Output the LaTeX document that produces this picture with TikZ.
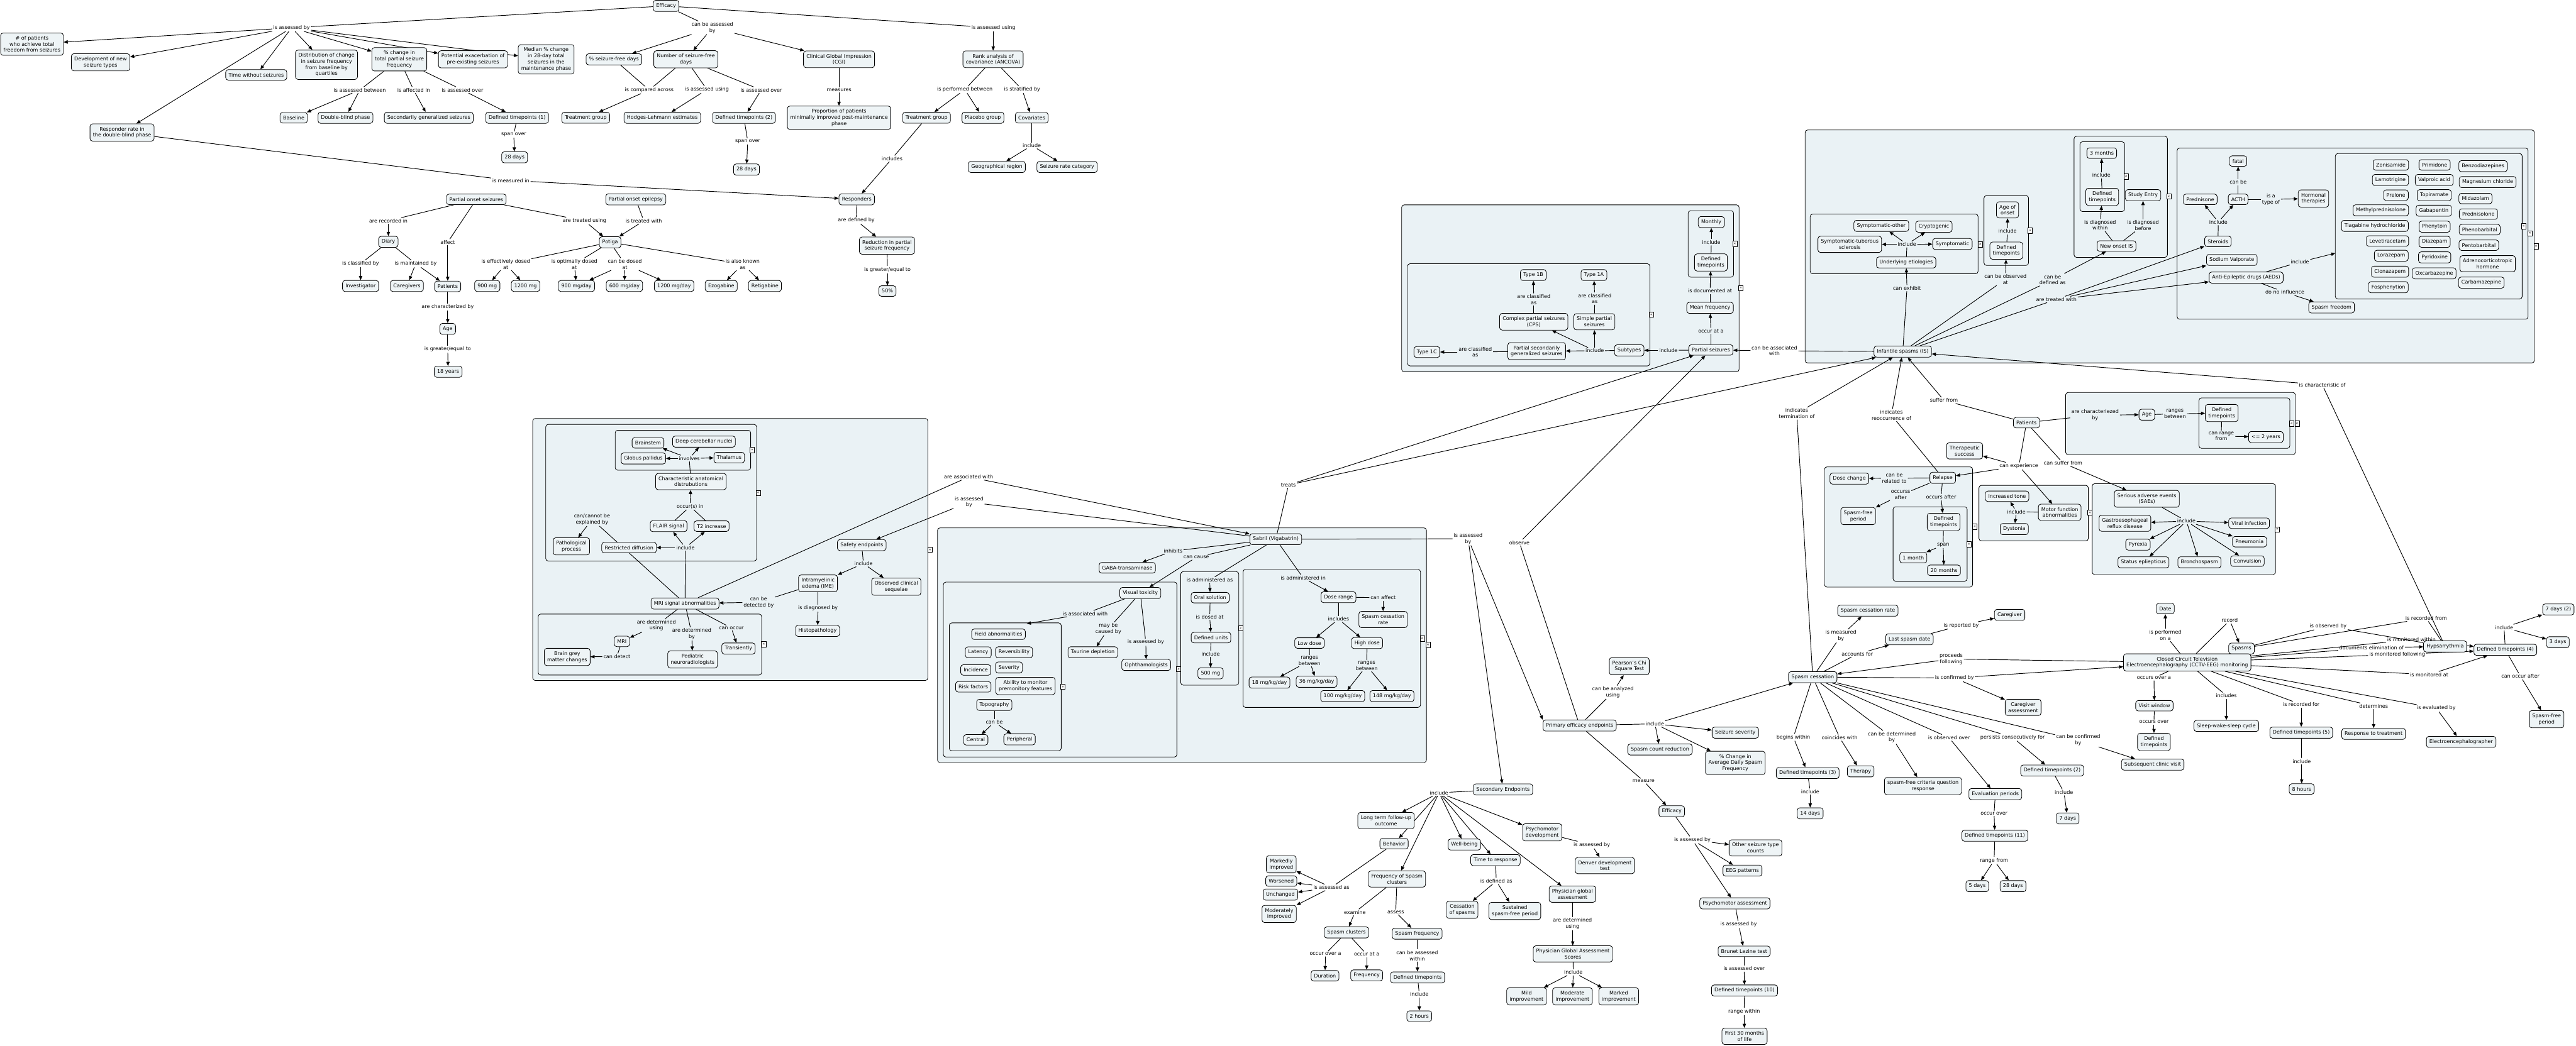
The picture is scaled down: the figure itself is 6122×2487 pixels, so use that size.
\documentclass[tikz,border=0pt]{standalone}
\usepackage{fontspec}
\setmainfont{DejaVu Sans}
\usetikzlibrary{arrows.meta}
\definecolor{cfill}{RGB}{238,244,246}
\definecolor{gfill}{RGB}{234,242,245}
\pgfdeclarelayer{panels}
\pgfdeclarelayer{links}
\pgfsetlayers{panels,links,main}
\begin{document}
\begin{tikzpicture}[x=0.01cm, y=-0.01cm, line width=0.3pt,
  font=\fontsize{3.41}{4.13}\selectfont,
  main/.style={draw, rounded corners=1.7pt, fill=cfill, line width=0.35pt, inner xsep=2pt, inner ysep=2.1pt, minimum height=7.1pt, align=center},
  lnk/.style={inner sep=0.6pt, align=center},
  arr/.style={-{Triangle[length=2.8pt,width=2.3pt]}},
  grp/.style={draw, rounded corners=1.7pt, fill=gfill, line width=0.35pt},
  fold/.style={draw, fill=white, line width=0.3pt, inner sep=0pt, minimum width=3pt, minimum height=3.6pt, font=\fontsize{2.6}{3}\selectfont}]
\useasboundingbox (0,0) rectangle (6122,2487);

\begin{pgfonlayer}{panels}
\draw[grp] (3331,487) rectangle (4133,884);
\draw[grp] (3345,627) rectangle (3921,870);
\draw[grp] (4012,501) rectangle (4120,659);
\draw[grp] (4290,309) rectangle (6023,863);
\draw[grp] (4302,509) rectangle (4701,651);
\draw[grp] (4715,465) rectangle (4821,631);
\draw[grp] (4929,324) rectangle (5151,612);
\draw[grp] (4943,337) rectangle (5049,503);
\draw[grp] (5174,352) rectangle (6008,759);
\draw[grp] (5550,365) rectangle (5994,711);
\draw[grp] (1266,995) rectangle (2205,1618);
\draw[grp] (1297,1009) rectangle (1798,1334);
\draw[grp] (1462,1023) rectangle (1784,1118);
\draw[grp] (1279,1460) rectangle (1810,1605);
\draw[grp] (2228,1255) rectangle (3390,1813);
\draw[grp] (2242,1384) rectangle (2797,1800);
\draw[grp] (2256,1481) rectangle (2522,1785);
\draw[grp] (2806,1359) rectangle (2944,1629);
\draw[grp] (2954,1354) rectangle (3376,1682);
\draw[grp] (4336,1110) rectangle (4688,1396);
\draw[grp] (4499,1205) rectangle (4675,1382);
\draw[grp] (4909,933) rectangle (5455,1081);
\draw[grp] (5226,946) rectangle (5442,1066);
\draw[grp] (4703,1154) rectangle (4963,1286);
\draw[grp] (4972,1150) rectangle (5408,1366);
\end{pgfonlayer}

\node[main] (eff) at (1583,14) {Efficacy};
\node[lnk] (asby) at (693,66) {is assessed by};
\node[main] (npat) at (76,105) {\# of patients\\who achieve total\\freedom from seizures};
\node[main] (devn) at (239,148) {Development of new\\seizure types};
\node[main] (twos) at (609,178) {Time without seizures};
\node[main] (dist) at (776,154) {Distribution of change\\in seizure frequency\\from baseline by\\quartiles};
\node[main] (pchg) at (949,141) {\% change in\\total partial seizure\\frequency};
\node[main] (potx) at (1124,141) {Potential exacerbation of\\pre-existing seizures};
\node[main] (medc) at (1298,141) {Median \% change\\in 28-day total\\seizures in the\\maintenance phase};
\node[main] (psfd) at (1459,141) {\% seizure-free days};
\node[lnk] (cabb) at (1693,66) {can be assessed\\by};
\node[main] (nsfd) at (1630,141) {Number of seizure-free\\days};
\node[main] (cgi) at (1994,141) {Clinical Global Impression\\(CGI)};
\node[lnk] (asus) at (2361,66) {is assessed using};
\node[main] (ranc) at (2360,141) {Rank analysis of\\covariance (ANCOVA)};
\node[main] (resr) at (290,315) {Responder rate in\\the double-blind phase};
\node[lnk] (asbt) at (855,214) {is assessed between};
\node[lnk] (afin) at (983,214) {is affected in};
\node[lnk] (asov1) at (1099,214) {is assessed over};
\node[main] (basl) at (698,280) {Baseline};
\node[main] (dbp) at (821,280) {Double-blind phase};
\node[main] (sgs) at (1019,280) {Secondarily generalized seizures};
\node[main] (dt1) at (1229,280) {Defined timepoints (1)};
\node[lnk] (spov1) at (1221,320) {span over};
\node[main] (d28a) at (1223,374) {28 days};
\node[lnk] (cmpa) at (1543,214) {is compared across};
\node[lnk] (asus2) at (1680,213) {is assessed using};
\node[lnk] (asov2) at (1809,214) {is assessed over};
\node[lnk] (meas) at (1994,214) {measures};
\node[lnk] (pfbt) at (2293,213) {is performed between};
\node[lnk] (stby) at (2429,213) {is stratified by};
\node[main] (trg1) at (1392,280) {Treatment group};
\node[main] (hodg) at (1574,280) {Hodges-Lehmann estimates};
\node[main] (dt2) at (1768,280) {Defined timepoints (2)};
\node[main] (prop) at (1994,280) {Proportion of patients\\minimally improved post-maintenance\\phase};
\node[main] (trg2) at (2202,280) {Treatment group};
\node[main] (plac) at (2336,280) {Placebo group};
\node[main] (covs) at (2452,280) {Covariates};
\node[lnk] (spov2) at (1777,336) {span over};
\node[main] (d28b) at (1774,403) {28 days};
\node[lnk] (incs1) at (2120,377) {includes};
\node[lnk] (incl1) at (2452,346) {include};
\node[main] (geo) at (2369,397) {Geographical region};
\node[main] (src) at (2536,397) {Seizure rate category};
\node[lnk] (msin) at (1214,429) {is measured in};
\node[main] (rspd) at (2036,474) {Responders};
\node[lnk] (adby) at (2035,524) {are defined by};
\node[main] (rdpf) at (2108,584) {Reduction in partial\\seizure frequency};
\node[lnk] (gte1) at (2109,641) {is greater/equal to};
\node[main] (p50) at (2109,692) {50\%};
\node[main] (pos) at (1132,474) {Partial onset seizures};
\node[main] (poe) at (1511,474) {Partial onset epilepsy};
\node[lnk] (arin) at (923,525) {are recorded in};
\node[lnk] (affc) at (1064,576) {affect};
\node[lnk] (atus) at (1389,525) {are treated using};
\node[lnk] (itw) at (1530,525) {is treated with};
\node[main] (diary) at (923,575) {Diary};
\node[main] (potg) at (1450,576) {Potiga};
\node[lnk] (clby) at (857,627) {is classified by};
\node[lnk] (mnby) at (988,627) {is maintained by};
\node[lnk] (effd) at (1202,628) {is effectively dosed\\at};
\node[lnk] (optd) at (1365,628) {is optimally dosed\\at};
\node[lnk] (cbdt) at (1485,628) {can be dosed\\at};
\node[lnk] (akas) at (1765,628) {is also known\\as};
\node[main] (invs) at (857,680) {Investigator};
\node[main] (cgvs) at (967,680) {Caregivers};
\node[main] (patl) at (1064,681) {Patients};
\node[main] (m900) at (1158,680) {900 mg};
\node[main] (m1200) at (1249,680) {1200 mg};
\node[main] (d900) at (1370,680) {900 mg/day};
\node[main] (d600) at (1484,680) {600 mg/day};
\node[main] (d1200) at (1602,680) {1200 mg/day};
\node[main] (ezog) at (1714,680) {Ezogabine};
\node[main] (retg) at (1818,680) {Retigabine};
\node[lnk] (achb) at (1064,730) {are characterized by};
\node[main] (agel) at (1064,782) {Age};
\node[lnk] (gte2) at (1064,830) {is greater/equal to};
\node[main] (y18) at (1065,884) {18 years};

\node[main] (bstm) at (1540,1053) {Brainstem};
\node[main] (glob) at (1529,1090) {Globus pallidus};
\node[main] (dcn) at (1673,1050) {Deep cerebellar nuclei};
\node[main] (thal) at (1733,1088) {Thalamus};
\node[lnk] (invl) at (1638,1090) {involves};
\node[main] (cad) at (1642,1145) {Characteristic anatomical\\distrubutions};
\node[lnk] (occi) at (1640,1204) {occur(s) in};
\node[main] (flair) at (1589,1251) {FLAIR signal};
\node[main] (t2i) at (1691,1251) {T2 increase};
\node[lnk] (incl2) at (1629,1302) {include};
\node[main] (rdif) at (1495,1302) {Restricted diffusion};
\node[main] (patp) at (1358,1299) {Pathological\\process};
\node[lnk] (cnex) at (1407,1235) {can/cannot be\\explained by};
\node[main] (mrisa) at (1628,1435) {MRI signal abnormalities};
\node[main] (mri) at (1478,1525) {MRI};
\node[main] (bgmc) at (1348,1562) {Brain grey\\matter changes};
\node[lnk] (cdet) at (1466,1561) {can detect};
\node[lnk] (adus) at (1560,1487) {are determined\\using};
\node[lnk] (adby2) at (1644,1507) {are determined\\by};
\node[lnk] (cocc) at (1738,1493) {can occur};
\node[main] (pedn) at (1646,1568) {Pediatric\\neuroradiologists};
\node[main] (trns) at (1755,1542) {Transiently};
\node[lnk] (cbdb) at (1803,1432) {can be\\detected by};
\node[main] (safe) at (2048,1296) {Safety endpoints};
\node[lnk] (incl3) at (2052,1340) {include};
\node[main] (ime) at (1944,1387) {Intramyelinic\\edema (IME)};
\node[main] (ocs) at (2130,1395) {Observed clinical\\sequelae};
\node[lnk] (dgby) at (1944,1446) {is diagnosed by};
\node[main] (hist) at (1943,1500) {Histopathology};
\node[lnk] (aaw) at (2302,1134) {are associated with};
\node[lnk] (asby2) at (2303,1194) {is assessed\\by};

\node[main] (sab) at (3032,1282) {Sabril (Vigabatrin)};
\node[lnk] (inhb) at (2788,1310) {inhibits};
\node[main] (gaba) at (2679,1350) {GABA-transaminase};
\node[lnk] (ccau) at (2843,1325) {can cause};
\node[main] (vtox) at (2710,1410) {Visual toxicity};
\node[lnk] (iaw) at (2579,1459) {is associated with};
\node[lnk] (mbcb) at (2634,1495) {may be\\caused by};
\node[lnk] (asby3) at (2723,1527) {is assessed by};
\node[main] (taur) at (2597,1551) {Taurine depletion};
\node[main] (opht) at (2724,1581) {Ophthamologists};
\node[main] (fabn) at (2373,1508) {Field abnormalities};
\node[main] (latn) at (2325,1551) {Latency};
\node[main] (revr) at (2410,1551) {Reversibility};
\node[main] (incd) at (2319,1593) {Incidence};
\node[main] (sevr) at (2398,1587) {Severity};
\node[main] (rskf) at (2313,1633) {Risk factors};
\node[main] (abil) at (2437,1631) {Ability to monitor\\premonitory features};
\node[main] (topo) at (2363,1676) {Topography};
\node[lnk] (canbe1) at (2363,1717) {can be};
\node[main] (cent) at (2319,1759) {Central};
\node[main] (peri) at (2423,1758) {Peripheral};
\node[lnk] (admas) at (2875,1379) {is administered as};
\node[main] (orals) at (2876,1421) {Oral solution};
\node[lnk] (dsat) at (2875,1467) {is dosed at};
\node[main] (dunit) at (2878,1516) {Defined units};
\node[lnk] (incl4) at (2877,1555) {include};
\node[main] (m500) at (2877,1601) {500 mg};
\node[lnk] (admin) at (3097,1374) {is administered in};
\node[main] (dsr) at (3181,1420) {Dose range};
\node[lnk] (caff) at (3287,1421) {can affect};
\node[main] (scr1) at (3287,1473) {Spasm cessation\\rate};
\node[lnk] (incs2) at (3181,1472) {includes};
\node[main] (lowd) at (3112,1529) {Low dose};
\node[main] (higd) at (3249,1529) {High dose};
\node[lnk] (rbt1) at (3112,1571) {ranges\\between};
\node[lnk] (rbt2) at (3248,1583) {ranges\\between};
\node[main] (k18) at (3017,1623) {18 mg/kg/day};
\node[main] (k36) at (3129,1621) {36 mg/kg/day};
\node[main] (k100) at (3191,1655) {100 mg/kg/day};
\node[main] (k148) at (3308,1655) {148 mg/kg/day};
\node[lnk] (trts) at (3062,1153) {treats};
\node[lnk] (asby4) at (3489,1281) {is assessed\\by};
\node[lnk] (obsv) at (3611,1290) {observe};

\node[main] (mthl) at (4067,528) {Monthly};
\node[lnk] (incl5) at (4067,576) {include};
\node[main] (dtpa) at (4066,624) {Defined\\timepoints};
\node[lnk] (docat) at (4064,692) {is documented at};
\node[main] (mfreq) at (4064,732) {Mean frequency};
\node[lnk] (occa) at (4066,787) {occur at a};
\node[main] (ps) at (4066,832) {Partial seizures};
\node[main] (t1b) at (3644,654) {Type 1B};
\node[main] (t1a) at (3788,654) {Type 1A};
\node[lnk] (acas1) at (3645,712) {are classified\\as};
\node[lnk] (acas2) at (3790,710) {are classified\\as};
\node[main] (cps) at (3645,765) {Complex partial seizures\\(CPS)};
\node[main] (sps) at (3789,765) {Simple partial\\seizures};
\node[lnk] (incl6) at (3790,834) {include};
\node[main] (psgs) at (3652,835) {Partial secondarily\\generalized seizures};
\node[main] (subt) at (3872,833) {Subtypes};
\node[lnk] (incl7) at (3965,833) {include};
\node[main] (t1c) at (3391,837) {Type 1C};
\node[lnk] (acas3) at (3506,837) {are classified\\as};
\node[lnk] (cbaw) at (4217,834) {can be associated\\with};

\node[main] (isp) at (4522,836) {Infantile spasms (IS)};
\node[main] (symo) at (4471,537) {Symptomatic-other};
\node[main] (cryp) at (4596,539) {Cryptogenic};
\node[main] (symt) at (4396,581) {Symptomatic-tuberous\\sclerosis};
\node[lnk] (incl8) at (4532,581) {include};
\node[main] (symp) at (4640,580) {Symptomatic};
\node[main] (unde) at (4530,624) {Underlying etiologies};
\node[lnk] (cexh) at (4532,685) {can exhibit};
\node[main] (aons) at (4771,499) {Age of\\onset};
\node[lnk] (incl9) at (4771,550) {include};
\node[main] (dtpf) at (4768,596) {Defined\\timepoints};
\node[lnk] (cboa) at (4766,664) {can be observed\\at};
\node[main] (m3) at (4995,364) {3 months};
\node[lnk] (incl10) at (4994,417) {include};
\node[main] (dtph) at (4996,468) {Defined\\timepoints};
\node[main] (sent) at (5093,464) {Study Entry};
\node[lnk] (dgwi) at (4991,535) {is diagnosed\\within};
\node[lnk] (dgbf) at (5093,536) {is diagnosed\\before};
\node[main] (nois) at (5030,585) {New onset IS};
\node[lnk] (cbda) at (4878,665) {can be\\defined as};
\node[lnk] (atw) at (4887,712) {are treated with};
\node[main] (fatal) at (5319,383) {fatal};
\node[lnk] (canbe2) at (5319,433) {can be};
\node[main] (pred) at (5229,474) {Prednisone};
\node[main] (acth) at (5319,474) {ACTH};
\node[lnk] (isat) at (5397,474) {is a\\type of};
\node[main] (horm) at (5498,472) {Hormonal\\therapies};
\node[lnk] (incl11) at (5272,528) {include};
\node[main] (ster) at (5271,574) {Steroids};
\node[main] (sval) at (5304,618) {Sodium Valporate};
\node[main] (aeds) at (5338,660) {Anti-Epileptic drugs (AEDs)};
\node[lnk] (incl12) at (5466,623) {include};
\node[lnk] (dnin) at (5430,695) {do no influence};
\node[main] (spfr) at (5541,731) {Spasm freedom};
\coordinate (jleft) at (5550,602);
\node[main] (a1) at (5682,392) {Zonisamide};
\node[main] (a2) at (5681,428) {Lamotrigine};
\node[main] (a3) at (5694,464) {Prelone};
\node[main] (a4) at (5658,500) {Methylprednisolone};
\node[main] (a5) at (5644,537) {Tiagabine hydrochloride};
\node[main] (a6) at (5674,573) {Levetiracetam};
\node[main] (a7) at (5683,608) {Lorazepam};
\node[main] (a8) at (5680,646) {Clonazapem};
\node[main] (a9) at (5676,683) {Fosphenytion};
\node[main] (a10) at (5786,392) {Primidone};
\node[main] (a11) at (5785,428) {Valproic acid};
\node[main] (a12) at (5785,464) {Topiramate};
\node[main] (a13) at (5784,501) {Gabapentin};
\node[main] (a14) at (5786,539) {Phenytoin};
\node[main] (a15) at (5786,575) {Diazepam};
\node[main] (a16) at (5786,612) {Pyridoxine};
\node[main] (a17) at (5785,650) {Oxcarbazepine};
\node[main] (a18) at (5901,395) {Benzodiazepines};
\node[main] (a19) at (5912,433) {Magnesium chloride};
\node[main] (a20) at (5883,472) {Midazolam};
\node[main] (a21) at (5890,509) {Prednisolone};
\node[main] (a22) at (5893,546) {Phenobarbital};
\node[main] (a23) at (5891,583) {Pentobarbital};
\node[main] (a24) at (5912,627) {Adrenocorticotropic\\hormone};
\node[main] (a25) at (5897,672) {Carbamazepine};

\node[lnk] (isch) at (5519,915) {is characteristic of};
\node[lnk] (itrm) at (4270,983) {indicates\\termination of};
\node[lnk] (irec) at (4495,987) {indicates\\reoccurrence of};
\node[lnk] (sufr) at (4620,952) {suffer from};
\node[main] (patr) at (4816,1005) {Patients};
\node[lnk] (achb2) at (4979,987) {are characteriezed\\by};
\node[main] (ager) at (5102,986) {Age};
\node[lnk] (rbt3) at (5169,984) {ranges\\between};
\node[main] (dtpw) at (5280,982) {Defined\\timepoints};
\node[lnk] (crf) at (5279,1037) {can range\\from};
\node[main] (le2y) at (5385,1039) {<= 2 years};
\node[lnk] (cexp) at (4798,1108) {can experience};
\node[lnk] (csuf) at (4903,1101) {can suffer from};
\node[main] (thsc) at (4669,1072) {Therapeutic\\success};
\node[main] (dchg) at (4395,1138) {Dose change};
\node[lnk] (crto) at (4502,1137) {can be\\related to};
\node[main] (rlps) at (4617,1136) {Relapse};
\node[lnk] (ocsa) at (4517,1177) {occurss\\after};
\node[lnk] (ocaf) at (4613,1182) {occurs after};
\node[main] (sfp1) at (4416,1227) {Spasm-free\\period};
\node[main] (dtpu) at (4619,1241) {Defined\\timepoints};
\node[lnk] (spn) at (4618,1296) {span};
\node[main] (mo1) at (4547,1326) {1 month};
\node[main] (mo20) at (4620,1356) {20 months};
\node[main] (inct) at (4770,1180) {Increased tone};
\node[lnk] (incl13) at (4792,1217) {include};
\node[main] (dyst) at (4787,1258) {Dystonia};
\node[main] (mfab) at (4895,1218) {Motor function\\abnormalities};
\node[main] (saes) at (5102,1186) {Serious adverse events\\(SAEs)};
\node[lnk] (incl14) at (5196,1239) {include};
\node[main] (gerd) at (5050,1244) {Gastroesophageal\\reflux disease};
\node[main] (vinf) at (5345,1244) {Viral infection};
\node[main] (pyrx) at (5081,1295) {Pyrexia};
\node[main] (pneu) at (5346,1288) {Pneumonia};
\node[main] (stat) at (5094,1337) {Status epliepticus};
\node[main] (bron) at (5227,1337) {Bronchospasm};
\node[main] (conv) at (5341,1334) {Convulsion};

\node[main] (cgvr) at (4776,1462) {Caregiver};
\node[lnk] (rpby) at (4661,1487) {is reported by};
\node[main] (spc) at (4308,1610) {Spasm cessation};
\node[main] (scr2) at (4439,1452) {Spasm cessation rate};
\node[lnk] (msby) at (4375,1512) {is measured\\by};
\node[main] (lsd) at (4538,1520) {Last spasm date};
\node[lnk] (accf) at (4414,1555) {accounts for};
\node[lnk] (prcf) at (4637,1567) {proceeds\\following};
\node[lnk] (cfby) at (4645,1612) {is confirmed by};
\node[main] (dte) at (5146,1447) {Date};
\node[lnk] (pfon) at (5146,1510) {is performed\\on a};
\node[lnk] (rcrd) at (5299,1475) {record};
\node[main] (spsm) at (5327,1542) {Spasms};
\node[main] (hyps) at (5811,1537) {Hypsarrythmia};
\node[main] (dt4) at (5954,1545) {Defined timepoints (4)};
\node[main] (d7b) at (6080,1449) {7 days (2)};
\node[main] (d3) at (6079,1527) {3 days};
\node[lnk] (incl15) at (5951,1492) {include};
\node[lnk] (coa) at (5990,1608) {can occur after};
\node[main] (cctv) at (5198,1575) {Closed Circuit Television\\Electroencephalography (CCTV-EEG) monitoring};
\node[lnk] (oova) at (5119,1612) {occurs over a};
\node[lnk] (rcfr) at (5766,1470) {is recorded from};
\node[lnk] (obby) at (5533,1489) {is observed by};
\node[lnk] (mwin) at (5731,1521) {is monitored within};
\node[lnk] (delim) at (5636,1540) {documents elimination of};
\node[lnk] (mfol) at (5697,1556) {is monitored following};
\node[lnk] (mat) at (5773,1604) {is monitored at};
\node[lnk] (incs3) at (5291,1654) {includes};
\node[main] (cgas) at (4808,1682) {Caregiver\\assessment};
\node[lnk] (obov) at (4632,1754) {is observed over};
\node[lnk] (pcf) at (4783,1753) {persists consecutively for};
\node[lnk] (cbcb) at (4939,1760) {can be confirmed\\by};
\node[main] (vwin) at (5120,1678) {Visit window};
\node[lnk] (oov) at (5119,1717) {occurs over};
\node[main] (dtpv) at (5119,1764) {Defined\\timepoints};
\node[main] (swsc) at (5291,1726) {Sleep-wake-sleep cycle};
\node[lnk] (rcfor) at (5469,1675) {is recorded for};
\node[main] (dt5) at (5469,1742) {Defined timepoints (5)};
\node[lnk] (incl16) at (5470,1810) {include};
\node[main] (h8) at (5470,1876) {8 hours};
\node[lnk] (detr) at (5641,1679) {determines};
\node[main] (rtt) at (5641,1745) {Response to treatment};
\node[lnk] (evby) at (5790,1684) {is evaluated by};
\node[main] (eegr) at (5849,1764) {Electroencephalographer};
\node[main] (sfp2) at (6052,1710) {Spasm-free\\period};
\node[main] (sfcq) at (4570,1869) {spasm-free criteria question\\response};
\node[main] (evp) at (4742,1888) {Evaluation periods};
\node[lnk] (oov2) at (4739,1934) {occur over};
\node[main] (dt11) at (4741,1987) {Defined timepoints (11)};
\node[lnk] (rfr) at (4739,2046) {range from};
\node[main] (d5) at (4699,2107) {5 days};
\node[main] (d28c) at (4784,2107) {28 days};
\node[main] (dt2b) at (4877,1832) {Defined timepoints (2)};
\node[lnk] (incl17) at (4905,1884) {include};
\node[main] (d7) at (4914,1946) {7 days};
\node[main] (scv) at (5116,1818) {Subsequent clinic visit};

\node[main] (pee) at (3754,1725) {Primary efficacy endpoints};
\node[lnk] (incl18) at (3933,1721) {include};
\node[main] (ssev) at (4124,1742) {Seizure severity};
\node[main] (scrd) at (3945,1782) {Spasm count reduction};
\node[main] (pcad) at (4124,1814) {\% Change in\\Average Daily Spasm\\Frequency};
\node[lnk] (msre) at (3906,1857) {measure};
\node[main] (eff2) at (3973,1929) {Efficacy};
\node[lnk] (asby5) at (4022,1997) {is assessed by};
\node[main] (ostc) at (4172,2016) {Other seizure type\\counts};
\node[main] (eegp) at (4141,2070) {EEG patterns};
\node[main] (psya) at (4123,2148) {Psychomotor assessment};
\node[lnk] (asby6) at (4132,2198) {is assessed by};
\node[main] (blt) at (4145,2262) {Brunet Lezine test};
\node[lnk] (asov3) at (4145,2303) {is assessed over};
\node[main] (dt10) at (4146,2355) {Defined timepoints (10)};
\node[lnk] (rwin) at (4145,2405) {range within};
\node[main] (m30) at (4146,2464) {First 30 months\\of life};
\node[lnk] (bgwi) at (4262,1753) {begins within};
\node[lnk] (cwith) at (4372,1754) {coincides with};
\node[lnk] (cbdtb) at (4496,1753) {can be determined\\by};
\node[main] (dt3) at (4296,1838) {Defined timepoints (3)};
\node[main] (ther) at (4422,1834) {Therapy};
\node[lnk] (incl19) at (4302,1882) {include};
\node[main] (d14) at (4302,1934) {14 days};
\node[main] (pcst) at (3872,1584) {Pearson's Chi\\Square Test};
\node[lnk] (cbau) at (3833,1646) {can be analyzed\\using};
\node[main] (sece) at (3572,1877) {Secondary Endpoints};
\node[lnk] (incl20) at (3420,1885) {include};
\node[main] (ltfu) at (3294,1951) {Long term follow-up\\outcome};
\node[main] (behv) at (3313,2006) {Behavior};
\node[main] (wbei) at (3480,2008) {Well-being};
\node[main] (ttr) at (3554,2045) {Time to response};
\node[main] (psyd) at (3665,1979) {Psychomotor\\development};
\node[lnk] (asby7) at (3783,2009) {is assessed by};
\node[main] (ddt) at (3814,2058) {Denver development\\test};
\node[main] (pga) at (3737,2126) {Physician global\\assessment};
\node[lnk] (adus2) at (3737,2196) {are determined\\using};
\node[main] (pgas) at (3738,2268) {Physician Global Assessment\\Scores};
\node[lnk] (incl21) at (3739,2312) {include};
\node[main] (mild) at (3628,2369) {Mild\\improvement};
\node[main] (modi) at (3737,2369) {Moderate\\improvement};
\node[main] (mrkd) at (3847,2369) {Marked\\improvement};
\node[lnk] (idas) at (3556,2095) {is defined as};
\node[main] (cess) at (3475,2163) {Cessation\\of spasms};
\node[main] (sspf) at (3600,2166) {Sustained\\spasm-free period};
\node[main] (fsc) at (3320,2090) {Frequency of Spasm\\clusters};
\node[lnk] (exam) at (3220,2169) {examine};
\node[lnk] (asss) at (3317,2169) {assess};
\node[main] (spcl) at (3200,2217) {Spasm clusters};
\node[main] (spfq) at (3368,2220) {Spasm frequency};
\node[lnk] (ooa) at (3150,2268) {occur over a};
\node[lnk] (oata) at (3248,2269) {occur at a};
\node[lnk] (cbaw2) at (3368,2272) {can be assessed\\within};
\node[main] (durn) at (3149,2320) {Duration};
\node[main] (freq) at (3248,2319) {Frequency};
\node[main] (dtps) at (3369,2324) {Defined timepoints};
\node[lnk] (incl22) at (3373,2364) {include};
\node[main] (h2) at (3373,2416) {2 hours};
\node[lnk] (iasa) at (3164,2110) {is assessed as};
\node[main] (mkim) at (3045,2055) {Markedly\\improved};
\node[main] (wors) at (3045,2095) {Worsened};
\node[main] (unch) at (3043,2127) {Unchanged};
\node[main] (mdim) at (3040,2173) {Moderately\\improved};
\coordinate (qtop) at (2440,1483);

\node[fold] (f1) at (4123,580) {«};
\node[fold] (f2) at (4137,685) {«};
\node[fold] (f3) at (3925,748) {«};
\node[fold] (f4) at (5053,420) {«};
\node[fold] (f5) at (5154,467) {«};
\node[fold] (f6) at (4825,548) {«};
\node[fold] (f7) at (4706,581) {«};
\node[fold] (f8) at (5997,538) {«};
\node[fold] (f9) at (6012,555) {«};
\node[fold] (f10) at (6027,586) {«};
\node[fold] (f11) at (1788,1070) {«};
\node[fold] (f12) at (1802,1172) {«};
\node[fold] (f13) at (2210,1307) {«};
\node[fold] (f14) at (1815,1532) {«};
\node[fold] (f15) at (2948,1494) {«};
\node[fold] (f16) at (2801,1591) {«};
\node[fold] (f17) at (2526,1633) {«};
\node[fold] (f18) at (3380,1518) {«};
\node[fold] (f19) at (3394,1533) {«};
\node[fold] (f20) at (5446,1007) {«};
\node[fold] (f21) at (5459,1007) {«};
\node[fold] (f22) at (4693,1252) {«};
\node[fold] (f23) at (4679,1294) {«};
\node[fold] (f24) at (4967,1219) {«};
\node[fold] (f25) at (5412,1259) {«};

\begin{pgfonlayer}{links}
\draw (eff) -- (asby) (eff) -- (cabb) (eff) -- (asus);
\draw[arr] (asby) -- (npat); \draw[arr] (asby) -- (devn); \draw[arr] (asby) -- (twos);
\draw[arr] (asby) -- (dist); \draw[arr] (asby) -- (pchg); \draw[arr] (asby) -- (potx);
\draw[arr] (asby) -- (medc); \draw[arr] (asby) -- (resr);
\draw[arr] (cabb) -- (psfd); \draw[arr] (cabb) -- (nsfd); \draw[arr] (cabb) -- (cgi);
\draw[arr] (asus) -- (ranc);
\draw (pchg) -- (asbt) (pchg) -- (afin) (pchg) -- (asov1);
\draw[arr] (asbt) -- (basl); \draw[arr] (asbt) -- (dbp); \draw[arr] (afin) -- (sgs); \draw[arr] (asov1) -- (dt1);
\draw (dt1) -- (spov1); \draw[arr] (spov1) -- (d28a);
\draw (psfd) -- (cmpa) (nsfd) -- (cmpa); \draw[arr] (cmpa) -- (trg1);
\draw (nsfd) -- (asus2) (nsfd) -- (asov2);
\draw[arr] (asus2) -- (hodg); \draw[arr] (asov2) -- (dt2);
\draw (dt2) -- (spov2); \draw[arr] (spov2) -- (d28b);
\draw (cgi) -- (meas); \draw[arr] (meas) -- (prop);
\draw (ranc) -- (pfbt) (ranc) -- (stby);
\draw[arr] (pfbt) -- (trg2); \draw[arr] (pfbt) -- (plac); \draw[arr] (stby) -- (covs);
\draw (covs) -- (incl1); \draw[arr] (incl1) -- (geo); \draw[arr] (incl1) -- (src);
\draw (trg2) -- (incs1); \draw[arr] (incs1) -- (rspd);
\draw (resr) -- (msin); \draw[arr] (msin) -- (rspd);
\draw (rspd) -- (adby); \draw[arr] (adby) -- (rdpf);
\draw (rdpf) -- (gte1); \draw[arr] (gte1) -- (p50);
\draw (pos) -- (arin) (pos) -- (affc) (pos) -- (atus);
\draw[arr] (arin) -- (diary); \draw[arr] (affc) -- (patl); \draw[arr] (atus) -- (potg);
\draw (poe) -- (itw); \draw[arr] (itw) -- (potg);
\draw (diary) -- (clby) (diary) -- (mnby);
\draw[arr] (clby) -- (invs); \draw[arr] (mnby) -- (cgvs); \draw[arr] (mnby) -- (patl);
\draw (potg) -- (effd) (potg) -- (optd) (potg) -- (cbdt) (potg) -- (akas);
\draw[arr] (effd) -- (m900); \draw[arr] (effd) -- (m1200); \draw[arr] (optd) -- (d900);
\draw[arr] (cbdt) -- (d900); \draw[arr] (cbdt) -- (d600); \draw[arr] (cbdt) -- (d1200);
\draw[arr] (akas) -- (ezog); \draw[arr] (akas) -- (retg);
\draw (patl) -- (achb); \draw[arr] (achb) -- (agel);
\draw (agel) -- (gte2); \draw[arr] (gte2) -- (y18);

\draw (cad) -- (invl);
\draw[arr] (invl) -- (bstm); \draw[arr] (invl) -- (dcn); \draw[arr] (invl) -- (glob); \draw[arr] (invl) -- (thal);
\draw (flair) -- (occi) (t2i) -- (occi); \draw[arr] (occi) -- (cad);
\draw (mrisa) -- (incl2);
\draw[arr] (incl2) -- (flair); \draw[arr] (incl2) -- (t2i); \draw[arr] (incl2) -- (rdif);
\draw (mrisa) -- (cnex); \draw[arr] (cnex) -- (patp);
\draw (mrisa) -- (adus) (mrisa) -- (adby2) (mrisa) -- (cocc);
\draw[arr] (adus) -- (mri); \draw[arr] (adby2) -- (pedn); \draw[arr] (cocc) -- (trns);
\draw (mri) -- (cdet); \draw[arr] (cdet) -- (bgmc);
\draw (ime) -- (cbdb); \draw[arr] (cbdb) -- (mrisa);
\draw (safe) -- (incl3); \draw[arr] (incl3) -- (ime); \draw[arr] (incl3) -- (ocs);
\draw (ime) -- (dgby); \draw[arr] (dgby) -- (hist);
\draw (mrisa) -- (aaw); \draw[arr] (aaw) -- (sab);
\draw (sab) -- (asby2); \draw[arr] (asby2) -- (safe);

\draw (sab) -- (inhb) (sab) -- (ccau) (sab) -- (admas) (sab) -- (admin) (sab) -- (trts) (sab) -- (asby4);
\draw[arr] (inhb) -- (gaba); \draw[arr] (ccau) -- (vtox); \draw[arr] (admas) -- (orals);
\draw[arr] (admin) -- (dsr); \draw[arr] (trts) -- (ps); \draw[arr] (trts) -- (isp);
\draw[arr] (asby4) -- (sece); \draw[arr] (asby4) -- (pee.north west);
\draw (vtox) -- (iaw) (vtox) -- (mbcb) (vtox) -- (asby3);
\draw[arr] (iaw) -- (qtop); \draw[arr] (mbcb) -- (taur); \draw[arr] (asby3) -- (opht);
\draw (topo) -- (canbe1); \draw[arr] (canbe1) -- (cent); \draw[arr] (canbe1) -- (peri);
\draw (orals) -- (dsat); \draw[arr] (dsat) -- (dunit);
\draw (dunit) -- (incl4); \draw[arr] (incl4) -- (m500);
\draw (dsr) -- (caff) (dsr) -- (incs2);
\draw[arr] (caff) -- (scr1); \draw[arr] (incs2) -- (lowd); \draw[arr] (incs2) -- (higd);
\draw (lowd) -- (rbt1) (higd) -- (rbt2);
\draw[arr] (rbt1) -- (k18); \draw[arr] (rbt1) -- (k36); \draw[arr] (rbt2) -- (k100); \draw[arr] (rbt2) -- (k148);
\draw (pee) -- (obsv); \draw[arr] (obsv) -- (ps);
\draw (pee) -- (cbau); \draw[arr] (cbau) -- (pcst);

\draw (ps) -- (occa); \draw[arr] (occa) -- (mfreq);
\draw (mfreq) -- (docat); \draw[arr] (docat) -- (dtpa);
\draw (dtpa) -- (incl5); \draw[arr] (incl5) -- (mthl);
\draw (ps) -- (incl7); \draw[arr] (incl7) -- (subt);
\draw (subt) -- (incl6);
\draw[arr] (incl6) -- (psgs); \draw[arr] (incl6) -- (cps); \draw[arr] (incl6) -- (sps);
\draw (cps) -- (acas1); \draw[arr] (acas1) -- (t1b);
\draw (sps) -- (acas2); \draw[arr] (acas2) -- (t1a);
\draw (psgs) -- (acas3); \draw[arr] (acas3) -- (t1c);
\draw (isp) -- (cbaw); \draw[arr] (cbaw) -- (ps);

\draw (isp) -- (cexh); \draw[arr] (cexh) -- (unde);
\draw (unde) -- (incl8);
\draw[arr] (incl8) -- (symo); \draw[arr] (incl8) -- (cryp); \draw[arr] (incl8) -- (symt); \draw[arr] (incl8) -- (symp);
\draw (isp) -- (cboa); \draw[arr] (cboa) -- (dtpf);
\draw (dtpf) -- (incl9); \draw[arr] (incl9) -- (aons);
\draw (isp) -- (cbda); \draw[arr] (cbda) -- (nois);
\draw (nois) -- (dgwi) (nois) -- (dgbf);
\draw[arr] (dgwi) -- (dtph); \draw[arr] (dgbf) -- (sent);
\draw (dtph) -- (incl10); \draw[arr] (incl10) -- (m3);
\draw (isp) -- (atw);
\draw[arr] (atw) -- (ster); \draw[arr] (atw) -- (sval); \draw[arr] (atw) -- (aeds);
\draw (ster) -- (incl11); \draw[arr] (incl11) -- (pred); \draw[arr] (incl11) -- (acth);
\draw (acth) -- (canbe2); \draw[arr] (canbe2) -- (fatal);
\draw (acth) -- (isat); \draw[arr] (isat) -- (horm);
\draw (aeds) -- (incl12); \draw[arr] (incl12) -- (jleft);
\draw (aeds) -- (dnin); \draw[arr] (dnin) -- (spfr);

\draw (hyps) -- (isch); \draw[arr] (isch) -- (isp);
\draw (spc) -- (itrm); \draw[arr] (itrm) -- (isp);
\draw (rlps) -- (irec); \draw[arr] (irec) -- (isp);
\draw (patr) -- (sufr); \draw[arr] (sufr) -- (isp);
\draw (patr) -- (achb2); \draw[arr] (achb2) -- (ager);
\draw (ager) -- (rbt3); \draw[arr] (rbt3) -- (dtpw);
\draw (dtpw) -- (crf); \draw[arr] (crf) -- (le2y);
\draw (patr) -- (cexp) (patr) -- (csuf);
\draw[arr] (cexp) -- (thsc); \draw[arr] (cexp) -- (rlps); \draw[arr] (cexp) -- (mfab); \draw[arr] (csuf) -- (saes);
\draw (rlps) -- (crto) (rlps) -- (ocsa) (rlps) -- (ocaf);
\draw[arr] (crto) -- (dchg); \draw[arr] (ocsa) -- (sfp1); \draw[arr] (ocaf) -- (dtpu);
\draw (dtpu) -- (spn); \draw[arr] (spn) -- (mo1); \draw[arr] (spn) -- (mo20);
\draw (mfab) -- (incl13); \draw[arr] (incl13) -- (inct); \draw[arr] (incl13) -- (dyst);
\draw (saes) -- (incl14);
\draw[arr] (incl14) -- (gerd); \draw[arr] (incl14) -- (vinf); \draw[arr] (incl14) -- (pyrx); \draw[arr] (incl14) -- (stat);
\draw[arr] (incl14) -- (bron); \draw[arr] (incl14) -- (conv); \draw[arr] (incl14) -- (pneu);

\draw (spc) -- (msby) (spc) -- (accf) (spc) -- (cfby) (spc) -- (bgwi) (spc) -- (cwith);
\draw (spc) -- (cbdtb) (spc) -- (obov) (spc) -- (pcf) (spc) -- (cbcb);
\draw[arr] (msby) -- (scr2); \draw[arr] (accf) -- (lsd); \draw[arr] (cfby) -- (cctv); \draw[arr] (cfby) -- (cgas);
\draw[arr] (bgwi) -- (dt3); \draw[arr] (cwith) -- (ther); \draw[arr] (cbdtb) -- (sfcq);
\draw[arr] (obov) -- (evp); \draw[arr] (pcf) -- (dt2b); \draw[arr] (cbcb) -- (scv);
\draw (cctv) -- (prcf); \draw[arr] (prcf) -- (spc);
\draw (lsd) -- (rpby); \draw[arr] (rpby) -- (cgvr);
\draw (dt3) -- (incl19); \draw[arr] (incl19) -- (d14);
\draw (evp) -- (oov2); \draw[arr] (oov2) -- (dt11);
\draw (dt11) -- (rfr); \draw[arr] (rfr) -- (d5); \draw[arr] (rfr) -- (d28c);
\draw (dt2b) -- (incl17); \draw[arr] (incl17) -- (d7);

\draw (cctv) -- (pfon); \draw[arr] (pfon) -- (dte);
\draw (cctv) -- (rcrd); \draw[arr] (rcrd) -- (spsm);
\draw (spsm) -- (rcfr) (spsm) -- (obby) (rcfr) -- (hyps) (obby) -- (hyps);
\draw (cctv) -- (mwin) (cctv) -- (delim) (cctv) -- (mfol) (cctv) -- (mat);
\draw[arr] (mwin) -- (dt4); \draw[arr] (delim) -- (hyps); \draw[arr] (mfol) -- (dt4); \draw[arr] (mat) -- (dt4);
\draw (dt4) -- (incl15); \draw[arr] (incl15) -- (d7b); \draw[arr] (incl15) -- (d3);
\draw (dt4) -- (coa); \draw[arr] (coa) -- (sfp2);
\draw (cctv) -- (oova) (cctv) -- (incs3) (cctv) -- (rcfor) (cctv) -- (detr) (cctv) -- (evby);
\draw[arr] (oova) -- (vwin); \draw[arr] (incs3) -- (swsc); \draw[arr] (rcfor) -- (dt5);
\draw[arr] (detr) -- (rtt); \draw[arr] (evby) -- (eegr);
\draw (vwin) -- (oov); \draw[arr] (oov) -- (dtpv);
\draw (dt5) -- (incl16); \draw[arr] (incl16) -- (h8);

\draw (pee) -- (incl18);
\draw[arr] (incl18) -- (ssev); \draw[arr] (incl18) -- (scrd); \draw[arr] (incl18) -- (pcad); \draw[arr] (incl18) -- (spc);
\draw (pee) -- (msre); \draw[arr] (msre) -- (eff2);
\draw (eff2) -- (asby5);
\draw[arr] (asby5) -- (ostc); \draw[arr] (asby5) -- (eegp); \draw[arr] (asby5) -- (psya);
\draw (psya) -- (asby6); \draw[arr] (asby6) -- (blt);
\draw (blt) -- (asov3); \draw[arr] (asov3) -- (dt10);
\draw (dt10) -- (rwin); \draw[arr] (rwin) -- (m30);
\draw (sece) -- (incl20);
\draw[arr] (incl20) -- (ltfu); \draw[arr] (incl20) -- (behv); \draw[arr] (incl20) -- (fsc); \draw[arr] (incl20) -- (wbei);
\draw[arr] (incl20) -- (ttr); \draw[arr] (incl20) -- (psyd); \draw[arr] (incl20) -- (pga);
\draw (psyd) -- (asby7); \draw[arr] (asby7) -- (ddt);
\draw (pga) -- (adus2); \draw[arr] (adus2) -- (pgas);
\draw (pgas) -- (incl21); \draw[arr] (incl21) -- (mild); \draw[arr] (incl21) -- (modi); \draw[arr] (incl21) -- (mrkd);
\draw (ttr) -- (idas); \draw[arr] (idas) -- (cess); \draw[arr] (idas) -- (sspf);
\draw (fsc) -- (exam) (fsc) -- (asss); \draw[arr] (exam) -- (spcl); \draw[arr] (asss) -- (spfq);
\draw (spcl) -- (ooa) (spcl) -- (oata); \draw[arr] (ooa) -- (durn); \draw[arr] (oata) -- (freq);
\draw (spfq) -- (cbaw2); \draw[arr] (cbaw2) -- (dtps);
\draw (dtps) -- (incl22); \draw[arr] (incl22) -- (h2);
\draw (behv) -- (iasa);
\draw[arr] (iasa) -- (mkim); \draw[arr] (iasa) -- (wors); \draw[arr] (iasa) -- (unch); \draw[arr] (iasa) -- (mdim);
\end{pgfonlayer}
\end{tikzpicture}
\end{document}
